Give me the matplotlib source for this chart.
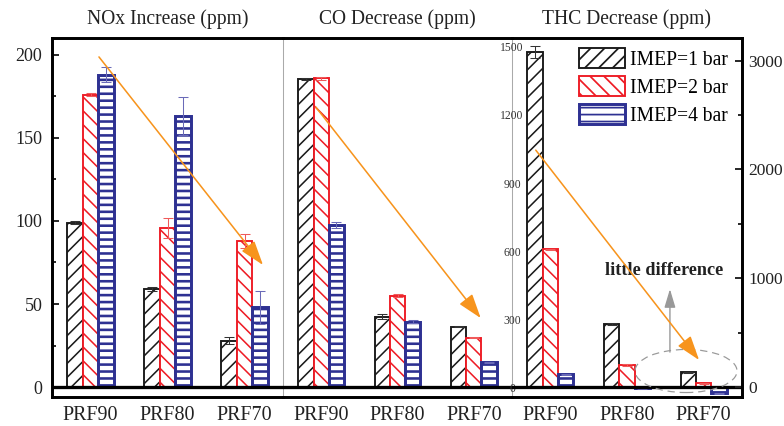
import matplotlib.pyplot as plt
import numpy as np
from matplotlib.patches import Ellipse
from matplotlib.ticker import MultipleLocator

plt.rcParams['font.family'] = ['Liberation Serif', 'DejaVu Serif']

fuels = ["PRF90", "PRF80", "PRF70"]
loads = ["IMEP=1 bar", "IMEP=2 bar", "IMEP=4 bar"]

# rows: IMEP=1, 2, 4 bar ; columns: PRF90, PRF80, PRF70
nox = [[99, 59, 28], [176, 96, 88], [188, 163, 48]]
nox_err = [[0.8, 1, 2], [0.8, 6, 4], [4.5, 11.5, 10]]
co = [[1359, 310, 266], [1362, 403, 218], [715, 288, 109]]
co_err = [[6, 10, 2], [6, 8, 3], [12, 6, 2]]
thc = [[1478, 277, 65], [607, 97, 16], [56, -5, -28]]
thc_err = [[26, 4, 2], [4, 6, 2], [2, 2, 2]]

colors = ["#1a1a1a", "#ee1c25", "#2e3192"]
err_colors = ["#333333", "#f05a5a", "#6a6ab8"]
hatches = ["///", "\\\\\\", "---"]
edge_lw = [1.1, 1.1, 1.7]
hatch_lw = [0.9, 0.9, 1.5]
orange = "#f7941d"

W, H = 784, 426
fig = plt.figure(figsize=(W / 125, H / 125), dpi=125)


def panel(x0, x1):
    ax = fig.add_axes([x0 / W, 1 - 397 / H, (x1 - x0) / W, (397 - 38) / H])
    ax.set_facecolor("none")
    return ax


def draw_bars(ax, values, errors):
    x = np.arange(len(fuels))
    bars = []
    for i in range(3):
        with plt.rc_context({"hatch.linewidth": hatch_lw[i]}):
            b = ax.bar(x + (i - 1) * 0.2, values[i], 0.2, color="white",
                       edgecolor=colors[i], hatch=hatches[i],
                       linewidth=edge_lw[i], label=loads[i], zorder=2)
        ax.errorbar(x + (i - 1) * 0.2, values[i], yerr=errors[i], fmt="none",
                    ecolor=err_colors[i], elinewidth=0.6, capsize=3,
                    capthick=0.6, zorder=3)
        bars.append(b)
    ax.axhline(0, color="black", lw=1.9, zorder=4)
    ax.set_xlim(-0.5, 2.5)
    ax.set_xticks(x, fuels)
    ax.tick_params(axis="x", length=0, pad=5, labelsize=11.5, colors="#222222")
    for s in ax.spines.values():
        s.set_linewidth(1.7)
        s.set_color("black")
    return bars


ax1 = panel(52, 283)
ax2 = panel(283, 512)
ax3 = panel(512, 742)

draw_bars(ax1, nox, nox_err)
draw_bars(ax2, co, co_err)
bars = draw_bars(ax3, thc, thc_err)

# NOx panel axis
ax1.set_ylim(-6.0, 210.2)
ax1.set_yticks([0, 50, 100, 150, 200])
ax1.yaxis.set_minor_locator(MultipleLocator(25))
ax1.tick_params(axis="y", which="both", direction="in", width=1.1,
                labelsize=10.4, pad=5.5, colors="#222222")
ax1.tick_params(axis="y", which="major", length=4)
ax1.tick_params(axis="y", which="minor", length=2.3)
ax1.spines["right"].set_color("#aaaaaa")
ax1.spines["right"].set_linewidth(0.6)

# CO panel
ax2.set_ylim(-44.1, 1539.7)
ax2.set_yticks([])
ax2.spines["left"].set_visible(False)
ax2.spines["right"].set_color("#aaaaaa")
ax2.spines["right"].set_linewidth(0.6)

# THC panel, small labels on its left edge
ax3.set_ylim(-44.1, 1539.7)
ticks = list(range(0, 1501, 300))
ax3.set_yticks(ticks, [str(t) for t in ticks], ha="center")
ax3.tick_params(axis="y", length=0, pad=0, labelsize=6.7, colors="#333333")
ax3.spines["left"].set_visible(False)
ax3.spines["right"].set_visible(False)

ax3t = ax3.twinx()
ax3t.set_ylim(-91.9, 3208.6)
ax3t.set_yticks([0, 1000, 2000, 3000])
ax3t.yaxis.set_minor_locator(MultipleLocator(500))
ax3t.tick_params(axis="y", which="both", direction="in", width=1.1,
                 labelsize=10, pad=3.5, colors="#222222")
ax3t.tick_params(axis="y", which="major", length=4)
ax3t.tick_params(axis="y", which="minor", length=2.3)
for name, s in ax3t.spines.items():
    s.set_visible(name == "right")
ax3t.spines["right"].set_linewidth(1.7)

for ax, title in zip([ax1, ax2, ax3], ["NOx Increase (ppm)", "CO Decrease (ppm)",
                                       "THC Decrease (ppm)"]):
    ax.set_title(title, fontsize=11.3, pad=8, color="#222222")

# trend arrows
arrow = dict(arrowstyle="-|>,head_length=0.6,head_width=0.2", mutation_scale=20,
             color=orange, lw=0.9, shrinkA=0, shrinkB=0)
ax1.annotate("", xy=(2.24, 73.5), xytext=(0.11, 198.8), arrowprops=arrow, zorder=6)
ax2.annotate("", xy=(2.09, 304), xytext=(-0.07, 1235), arrowprops=arrow, zorder=6)
ax3.annotate("", xy=(1.94, 119), xytext=(-0.19, 1045), arrowprops=arrow, zorder=6)

ax3.add_patch(Ellipse((1.77, 70.6), 1.33, 190, fill=False, ec="#999999",
                      lw=0.7, ls=(0, (6, 4)), zorder=5, clip_on=False))
ax3.annotate("", xy=(1.56, 432), xytext=(1.56, 154),
             arrowprops=dict(arrowstyle="-|>,head_length=0.5,head_width=0.15",
                             mutation_scale=18, color="#999999", lw=0.8,
                             shrinkA=0, shrinkB=0), zorder=5)
ax3.text(1.48, 512, "little difference", ha="center", va="center",
         fontsize=10.5, fontweight="bold", color="#222222")

fig.legend(bars, loads, loc="upper left", bbox_to_anchor=(579 / W, 1 - 48 / H),
           frameon=False, fontsize=11.3, handlelength=2.37, handleheight=1.2,
           handletextpad=0.25, labelspacing=0.32, borderpad=0, borderaxespad=0)

fig.savefig("out.png", dpi=125)
